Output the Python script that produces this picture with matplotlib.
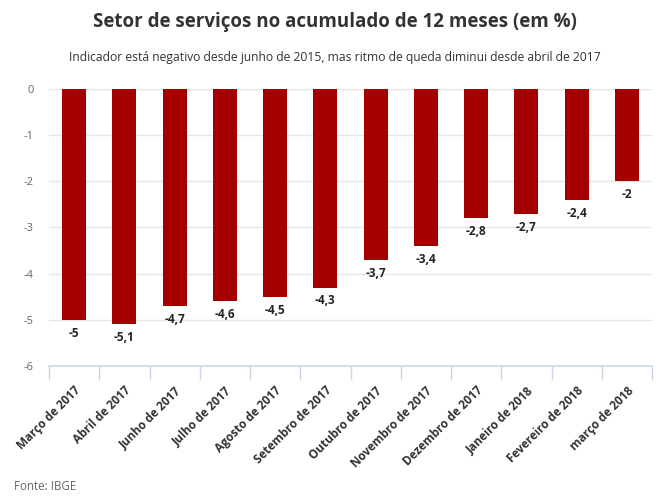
import matplotlib
matplotlib.use("Agg")
import matplotlib.pyplot as plt

categories = ["Março de 2017", "Abril de 2017", "Junho de 2017", "Julho de 2017",
              "Agosto de 2017", "Setembro de 2017", "Outubro de 2017", "Novembro de 2017",
              "Dezembro de 2017", "Janeiro de 2018", "Fevereiro de 2018", "março de 2018"]
values = [-5, -5.1, -4.7, -4.6, -4.5, -4.3, -3.7, -3.4, -2.8, -2.7, -2.4, -2]
yticks = [0, -1, -2, -3, -4, -5, -6]

plt.rcParams['font.family'] = ['Open Sans', 'DejaVu Sans']

fig = plt.figure(figsize=(6.7, 5.03), dpi=100)
W, H = 670, 503
ax = fig.add_axes([49 / W, (H - 366) / H, (652 - 49) / W, (366 - 89) / H])

x = list(range(len(categories)))
ax.bar(x, values, width=0.48, color="#a50000", zorder=3)
ax.set_xlim(-0.5, len(categories) - 0.5)
ax.set_ylim(-6, 0)
ax.set_yticks(yticks)
ax.set_yticklabels([str(t) for t in yticks], color="#666666", fontsize=8)
ax.tick_params(axis='y', length=0, pad=11)
ax.yaxis.grid(True, color="#e6e6e6", linewidth=1, zorder=0)

ax.set_xticks([i - 0.5 for i in range(len(categories) + 1)], minor=False)
ax.set_xticklabels([])
ax.tick_params(axis='x', length=10, color="#ccd6eb", width=1, direction='out')
ax.set_xticks(x, minor=True)
ax.set_xticklabels(categories, minor=True, rotation=45, ha='right', va='top',
                   rotation_mode='anchor', fontsize=8.5, fontweight='bold', color="#333333")
ax.tick_params(axis='x', which='minor', length=0, pad=13)

for s in ['top', 'right', 'left']:
    ax.spines[s].set_visible(False)
ax.spines['bottom'].set_color("#ccd6eb")
ax.spines['bottom'].set_linewidth(1.2)

for xi, v in zip(x, values):
    label = ("%g" % v).replace('.', ',')
    ax.annotate(label, (xi, v), xytext=(0, -5), textcoords='offset points',
                ha='center', va='top', fontsize=8.5, fontweight='bold', color="#222222")

fig.text(0.5, 1 - 22 / H, "Setor de serviços no acumulado de 12 meses (em %)",
         ha='center', va='center', fontsize=13.5, fontweight='bold', color="#333333")
fig.text(0.5, 1 - 57 / H, "Indicador está negativo desde junho de 2015, mas ritmo de queda diminui desde abril de 2017",
         ha='center', va='center', fontsize=8.7, color="#333333")
fig.text(14 / W, 1 - 487 / H, "Fonte: IBGE", ha='left', va='center', fontsize=8.3, color="#666666")

fig.savefig("out.png", dpi=100)
